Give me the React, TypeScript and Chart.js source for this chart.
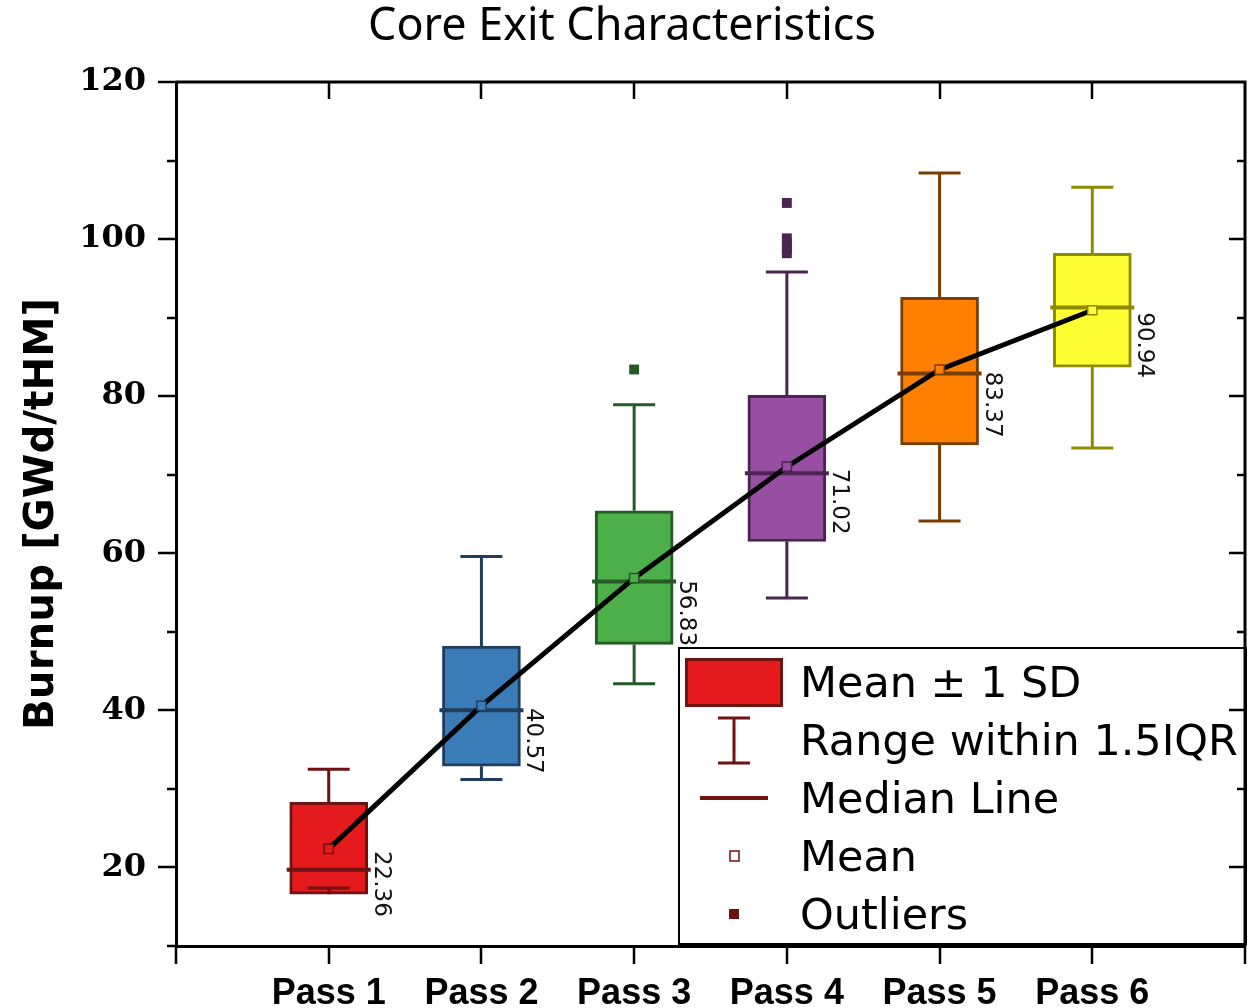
import React, { useEffect, useRef } from 'react';
import { Chart, registerables } from 'chart.js';

Chart.register(...registerables);

// ---------- data ----------
const passes = ['Pass 1', 'Pass 2', 'Pass 3', 'Pass 4', 'Pass 5', 'Pass 6'];
const boxLow = [16.6, 32.9, 48.4, 61.5, 73.8, 83.7];
const boxHigh = [28.3, 48.2, 65.4, 80.1, 92.6, 98.2];
const whiskerLow = [17.4, 31.2, 43.4, 54.3, 64.1, 73.4];
const whiskerHigh = [32.5, 59.6, 78.9, 95.8, 108.4, 106.6];
const medians = [19.7, 40.0, 56.4, 70.2, 82.9, 91.3];
const means = [22.36, 40.57, 56.83, 71.02, 83.37, 90.94];
const outlierPass = [3, 4, 4, 4, 4, 4];
const outlierValues = [83.4, 98.2, 98.8, 99.5, 100.1, 104.6];
const yTickValues = [10, 20, 30, 40, 50, 60, 70, 80, 90, 100, 110, 120];
const yLabelValues = [20, 40, 60, 80, 100, 120];
const legendLabels = ['Mean \u00B1 1 SD', 'Range within 1.5IQR', 'Median Line', 'Mean', 'Outliers'];
const titleText = 'Core Exit Characteristics';
const yTitleText = 'Burnup [GWd/tHM]';

const fills = ['#e41a1c', '#3a7cb8', '#4daf4a', '#984ea3', '#ff7f00', '#ffff33'];
const edges = ['#6e1212', '#1f3e5e', '#245a24', '#4b2452', '#7a3e05', '#8c8c00'];
const legendDark = '#6e1212';

const categoryLabels = ['', ...passes, ''];
const pad = (arr: any[]) => [null, ...arr, null];

function fitFont(ctx: CanvasRenderingContext2D, text: string, weight: string, family: string, target: number) {
  ctx.font = `${weight} 100px ${family}`;
  const w = ctx.measureText(text).width;
  return (100 * target) / w;
}

const extrasPlugin = {
  id: 'boxExtras',
  afterDatasetDraw(chart: any, args: any) {
    if (args.index !== 0) return;
    const ctx = chart.ctx;
    const xs = chart.scales.x;
    const ys = chart.scales.y;
    ctx.save();
    passes.forEach((_, i) => {
      const cx = xs.getPixelForValue(i + 1);
      ctx.strokeStyle = edges[i];
      ctx.lineWidth = 3;
      ctx.beginPath();
      ctx.moveTo(cx, ys.getPixelForValue(whiskerHigh[i]));
      ctx.lineTo(cx, ys.getPixelForValue(boxHigh[i]));
      ctx.moveTo(cx, ys.getPixelForValue(whiskerLow[i]));
      ctx.lineTo(cx, ys.getPixelForValue(boxLow[i]));
      ctx.stroke();
      ctx.beginPath();
      const wh = ys.getPixelForValue(whiskerHigh[i]);
      const wl = ys.getPixelForValue(whiskerLow[i]);
      ctx.moveTo(cx - 21, wh);
      ctx.lineTo(cx + 21, wh);
      ctx.moveTo(cx - 21, wl);
      ctx.lineTo(cx + 21, wl);
      ctx.stroke();
      ctx.lineWidth = 4;
      ctx.beginPath();
      const my = ys.getPixelForValue(medians[i]);
      ctx.moveTo(cx - 42, my);
      ctx.lineTo(cx + 42, my);
      ctx.stroke();
    });
    ctx.restore();
  },
  afterDatasetsDraw(chart: any) {
    const ctx = chart.ctx;
    const xs = chart.scales.x;
    const ys = chart.scales.y;
    ctx.save();
    // value labels (rotated)
    ctx.fillStyle = '#111';
    ctx.font = '23px "DejaVu Sans"';
    ctx.textAlign = 'left';
    ctx.textBaseline = 'alphabetic';
    passes.forEach((_, i) => {
      const cx = xs.getPixelForValue(i + 1);
      const py = ys.getPixelForValue(means[i]);
      ctx.save();
      ctx.translate(cx + 46, py + 2);
      ctx.rotate(Math.PI / 2);
      ctx.fillText(means[i].toFixed(2), 0, 0);
      ctx.restore();
    });
    // legend
    const lx = 679, ly = 648, lw = 567, lh = 296;
    ctx.fillStyle = '#fff';
    ctx.fillRect(lx, ly, lw, lh);
    ctx.strokeStyle = '#000';
    ctx.lineWidth = 2;
    ctx.strokeRect(lx, ly, lw, lh);
    // icons
    ctx.fillStyle = fills[0];
    ctx.fillRect(685, 658, 98, 49);
    ctx.strokeStyle = legendDark;
    ctx.lineWidth = 3;
    ctx.strokeRect(686.5, 659.5, 95, 46);
    ctx.beginPath();
    ctx.moveTo(718, 718); ctx.lineTo(750, 718);
    ctx.moveTo(718, 763); ctx.lineTo(750, 763);
    ctx.moveTo(734, 718); ctx.lineTo(734, 763);
    ctx.stroke();
    ctx.lineWidth = 4;
    ctx.beginPath();
    ctx.moveTo(700, 798); ctx.lineTo(768, 798);
    ctx.stroke();
    ctx.lineWidth = 1.5;
    ctx.fillStyle = '#fff';
    ctx.fillRect(730, 851, 9, 10);
    ctx.strokeRect(730, 851, 9, 10);
    ctx.fillStyle = legendDark;
    ctx.fillRect(729, 909, 10, 10);
    // legend text
    const fs = fitFont(ctx, legendLabels[1], 'normal', '"DejaVu Sans"', 438);
    ctx.font = `normal ${fs}px "DejaVu Sans"`;
    ctx.fillStyle = '#000';
    ctx.textAlign = 'left';
    ctx.textBaseline = 'alphabetic';
    legendLabels.forEach((t, i) => ctx.fillText(t, 800, 697 + 58 * i));
    ctx.restore();
  },
  afterDraw(chart: any) {
    const ctx = chart.ctx;
    const xs = chart.scales.x;
    const ys = chart.scales.y;
    const { left, right, top, bottom } = chart.chartArea;
    ctx.save();
    ctx.strokeStyle = '#000';
    ctx.lineWidth = 3;
    ctx.beginPath();
    ctx.moveTo(left, top);
    ctx.lineTo(right, top);
    ctx.lineTo(right, bottom);
    ctx.stroke();
    ctx.lineWidth = 2.5;
    ctx.beginPath();
    yTickValues.forEach((v) => {
      const py = Math.round(ys.getPixelForValue(v));
      const major = yLabelValues.includes(v);
      ctx.moveTo(left - (major ? 18 : 9), py);
      ctx.lineTo(left, py);
      if (v > 10 && v < 120) {
        ctx.moveTo(right, py);
        ctx.lineTo(right - (major ? 16 : 8), py);
      }
    });
    for (let i = 0; i < categoryLabels.length; i++) {
      const px = Math.round(xs.getPixelForValue(i));
      ctx.moveTo(px, bottom);
      ctx.lineTo(px, bottom + 18);
      if (i > 0 && i < categoryLabels.length - 1) {
        ctx.moveTo(px, top);
        ctx.lineTo(px, top + 17);
      }
    }
    ctx.stroke();
    // title
    const tfs = fitFont(ctx, titleText, 'normal', '"Noto Sans"', 508);
    ctx.font = `normal ${tfs}px "Noto Sans"`;
    ctx.fillStyle = '#000';
    ctx.textAlign = 'center';
    ctx.textBaseline = 'alphabetic';
    ctx.fillText(titleText, 622, 40);
    // y title
    const yfs = fitFont(ctx, yTitleText, 'bold', '"DejaVu Sans"', 432);
    ctx.font = `bold ${yfs}px "DejaVu Sans"`;
    ctx.translate(42, 514);
    ctx.rotate(-Math.PI / 2);
    ctx.textBaseline = 'middle';
    ctx.fillText(yTitleText, 0, 0);
    ctx.restore();
  },
};

export default function App() {
  const ref = useRef<HTMLCanvasElement | null>(null);
  useEffect(() => {
    document.body.style.margin = '0';
    const canvas = ref.current!;
    const chart = new Chart(canvas, {
      type: 'bar',
      data: {
        labels: categoryLabels,
        datasets: [
          {
            type: 'bar',
            data: pad(passes.map((_, i) => [boxLow[i], boxHigh[i]])),
            backgroundColor: pad(fills),
            borderColor: pad(edges),
            borderWidth: 3,
            borderSkipped: false,
            barThickness: 78,
            order: 4,
          } as any,
          {
            type: 'line',
            data: pad(means),
            borderColor: '#000',
            borderWidth: 5,
            pointRadius: 0,
            fill: false,
            tension: 0,
            order: 3,
          } as any,
          {
            type: 'line',
            data: pad(means),
            showLine: false,
            pointStyle: 'rect',
            pointRadius: 6.5,
            pointBackgroundColor: pad(fills),
            pointBorderColor: pad(edges),
            pointBorderWidth: 1.5,
            order: 2,
          } as any,
          {
            type: 'line',
            data: outlierValues.map((v, i) => ({ x: passes[outlierPass[i] - 1], y: v })),
            showLine: false,
            pointStyle: 'rect',
            pointRadius: 7,
            pointBackgroundColor: outlierPass.map((p) => edges[p - 1]),
            pointBorderWidth: 0,
            order: 1,
          } as any,
        ],
      },
      options: {
        responsive: false,
        devicePixelRatio: 1,
        animation: false,
        events: [],
        layout: { padding: { top: 82, right: 10, left: 0, bottom: 0 } },
        plugins: { legend: { display: false }, tooltip: { enabled: false }, title: { display: false } },
        scales: {
          x: {
            type: 'category',
            offset: false,
            grid: { display: false, drawTicks: false },
            border: { display: true, width: 3, color: '#000' },
            ticks: {
              autoSkip: false,
              maxRotation: 0,
              minRotation: 0,
              padding: 26,
              color: '#000',
              font: { family: '"Liberation Sans"', size: 36, weight: 'bold' },
            },
            afterFit: (s: any) => {
              s.height = 62;
              s.paddingLeft = 0;
              s.paddingRight = 0;
            },
          },
          y: {
            type: 'linear',
            min: 10,
            max: 120,
            grid: { display: false, drawTicks: false },
            border: { display: true, width: 3, color: '#000' },
            afterBuildTicks: (s: any) => {
              s.ticks = yTickValues.map((v) => ({ value: v }));
            },
            ticks: {
              padding: 30,
              color: '#000',
              autoSkip: false,
              font: { family: '"DejaVu Serif"', size: 32, weight: 'bold' },
              callback: (v: any) => (yLabelValues.includes(Number(v)) ? String(v) : ''),
            },
            afterFit: (s: any) => {
              s.width = 176;
              s.paddingTop = 0;
              s.paddingBottom = 0;
            },
          },
        },
      },
      plugins: [extrasPlugin],
    });
    return () => chart.destroy();
  }, []);
  return (
    <div style={{ width: 1255, height: 1008, position: 'relative', background: '#fff' }}>
      <canvas ref={ref} width={1255} height={1008} style={{ display: 'block' }} />
    </div>
  );
}
